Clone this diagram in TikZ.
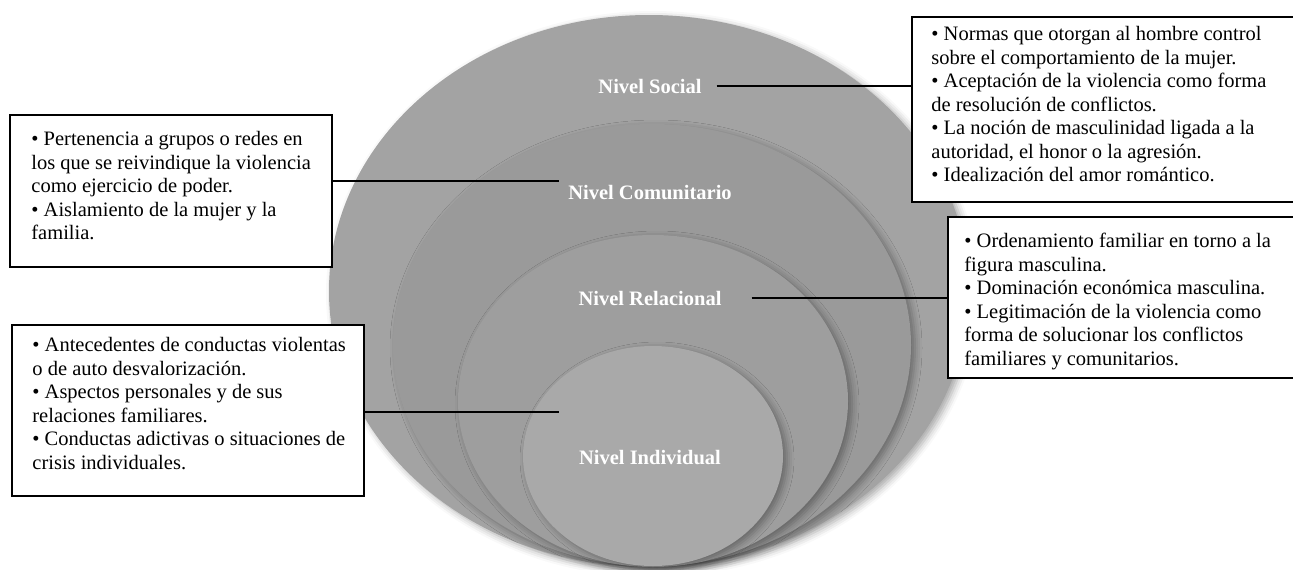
\documentclass[tikz,border=0pt]{standalone}
\usepackage{fontspec}
\setmainfont{Liberation Serif}
\usetikzlibrary{calc, positioning, shadows, shadows.blur}
\definecolor{grisSocial}{HTML}{A3A3A3}
\definecolor{grisComun}{HTML}{9A9A9A}
\definecolor{grisRelac}{HTML}{9E9E9E}
\definecolor{grisIndiv}{HTML}{A9A9A9}
\tikzset{
    nivel/.style={fill=#1,
        blur shadow={shadow xshift=4pt, shadow yshift=-3pt, shadow blur radius=7pt, shadow opacity=35}
    },
    etiqueta/.style={text=white, inner sep=0pt, font=\bfseries\fontsize{20.5}{24}\selectfont},
    caja/.style={draw, fill=white, line width=1.6pt, inner sep=0pt},
    texto/.style={anchor=north west, align=left, inner sep=0pt, font=\fontsize{20.5}{23.5}\selectfont},
    enlace/.style={line width=1.6pt}
}

\begin{document}
\begin{tikzpicture}[x=1pt, y=-1pt]
    \useasboundingbox (0,0) rectangle (1293,570);
    % niveles
    \fill[nivel=grisSocial] (649,291) ellipse [x radius=320, y radius=276];
    \fill[nivel=grisComun] (652,345) ellipse [x radius=259, y radius=221];
    \fill[nivel=grisRelac] (653,401) ellipse [x radius=195, y radius=166];
    \fill[nivel=grisIndiv] (653,456) ellipse [x radius=130, y radius=110];
    \node[etiqueta] (social) at (650,86) {Nivel Social};
    \node[etiqueta] (comunitario) at (650,193) {Nivel Comunitario};
    \node[etiqueta] (relacional) at (650,298) {Nivel Relacional};
    \node[etiqueta] (individual) at (650,458) {Nivel Individual};
    % cajas
    \node[caja, minimum width=322, minimum height=152] (cajaC) at (171,191) {};
    \node[caja, minimum width=384, minimum height=185] (cajaS) at (1104,109.5) {};
    \node[caja, minimum width=348, minimum height=161] (cajaR) at (1122,297.5) {};
    \node[caja, minimum width=352, minimum height=171] (cajaI) at (188,410.5) {};
    \node[texto] (textoC) at ($(cajaC.north west)+(22,17)$) {%
        • Pertenencia a grupos o redes en\\
        los que se reivindique la violencia\\
        como ejercicio de poder.\\
        • Aislamiento de la mujer y la\\
        familia.};
    \node[texto] (textoS) at ($(cajaS.north west)+(20,10)$) {%
        • Normas que otorgan al hombre control\\
        sobre el comportamiento de la mujer.\\
        • Aceptación de la violencia como forma\\
        de resolución de conflictos.\\
        • La noción de masculinidad ligada a la\\
        autoridad, el honor o la agresión.\\
        • Idealización del amor romántico.};
    \node[texto] (textoR) at ($(cajaR.north west)+(17,17)$) {%
        • Ordenamiento familiar en torno a la\\
        figura masculina.\\
        • Dominación económica masculina.\\
        • Legitimación de la violencia como\\
        forma de solucionar los conflictos\\
        familiares y comunitarios.};
    \node[texto] (textoI) at ($(cajaI.north west)+(21,13)$) {%
        • Antecedentes de conductas violentas\\
        o de auto desvalorización.\\
        • Aspectos personales y de sus\\
        relaciones familiares.\\
        • Conductas adictivas o situaciones de\\
        crisis individuales.};
    % enlaces
    \coordinate (finC) at (559,181);
    \coordinate (finI) at (559,412);
    \draw[enlace] ([xshift=15]social.east) -- (cajaS.west |- social.east);
    \draw[enlace] ([xshift=30]relacional.east) -- (cajaR.west |- relacional.east);
    \draw[enlace] (cajaC.east |- finC) -- (finC);
    \draw[enlace] (cajaI.east |- finI) -- (finI);
\end{tikzpicture}
\end{document}
